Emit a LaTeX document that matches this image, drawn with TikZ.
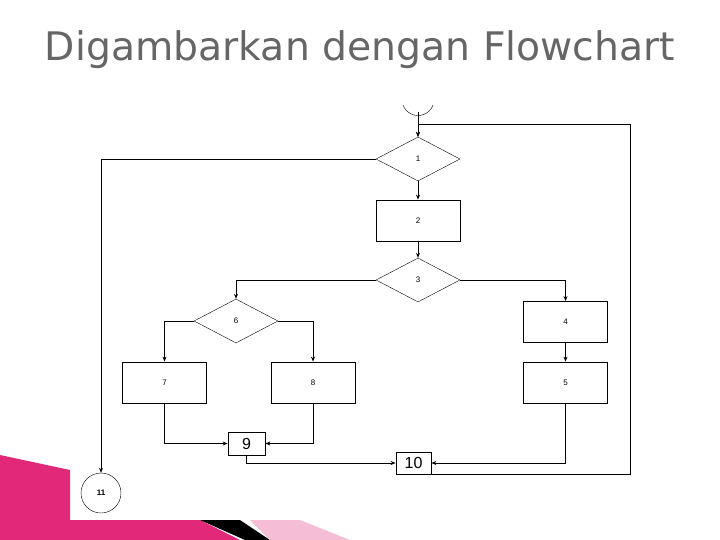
\documentclass[tikz,border=0pt]{standalone}
\usepackage{fontspec}
\setmainfont{Liberation Sans}
\newfontfamily\titlefont{DejaVu Sans}
\usetikzlibrary{shapes.geometric,arrows.meta}
\definecolor{deco}{RGB}{226,40,120}
\begin{document}
\begin{tikzpicture}[x=1pt,y=-1pt,
  box/.style={draw,thick,minimum width=84pt,minimum height=41pt,inner sep=0pt,font=\fontsize{8}{9}\selectfont},
  dia/.style={draw,diamond,aspect=1.9,minimum width=84pt,minimum height=44pt,inner sep=0pt,font=\fontsize{8}{9}\selectfont},
  small/.style={draw,thick,inner sep=0pt,font=\fontsize{16}{16}\selectfont},
  ar/.style={-{Stealth[length=5pt,width=4pt]},thick}]
\useasboundingbox (0,0) rectangle (720,540);
\fill[white] (0,0) rectangle (720,540);
% decorations
\fill[deco] (0,455) -- (70,470) -- (70,520) -- (200,520) -- (240,540) -- (0,540) -- cycle;
\fill[black] (200,520) -- (240,520) -- (270,540) -- (245,540) -- cycle;
\fill[deco!30] (250,520) -- (300,520) -- (350,540) -- (270,540) -- cycle;
\node[text=gray!80!black,inner sep=0pt] (title) at (360,50) {\resizebox{630pt}{!}{\titlefont\fontsize{30}{34}\selectfont Digambarkan dengan Flowchart}};
% nodes
\node[dia] (n1) at (418,159) {1};
\node[box] (n2) at (418,220.5) {2};
\node[dia] (n3) at (418,280) {3};
\node[dia] (n6) at (236,321) {6};
\node[box] (n4) at (565.5,322) {4};
\node[box] (n7) at (164.5,382.5) {7};
\node[box] (n8) at (313,382.5) {8};
\node[box] (n5) at (565.5,382.5) {5};
\node[small,minimum width=37pt,minimum height=23pt] (n9) at (246.5,443.5) {9};
\node[small,minimum width=35pt,minimum height=22pt] (n10) at (413.5,463) {10};
\node[draw,circle,minimum size=40pt,inner sep=0pt,font=\fontsize{8}{9}\selectfont\bfseries] (n11) at (101,493) {11};
\coordinate (s) at (418,112);
\draw[thin] (403,105) arc[start angle=200,end angle=340,radius=16pt];
% connectors
\draw[ar] (s) -- (n1.north);
\draw[ar] (n1.south) -- (n2.north);
\draw[ar] (n2.south) -- (n3.north);
\draw[ar] (n1.west) -| (n11.north);
\draw[ar] (n3.west) -| (n6.north);
\draw[ar] (n3.east) -| (n4.north);
\draw[ar] (n4.south) -- (n5.north);
\draw[ar] (n6.west) -| (n7.north);
\draw[ar] (n6.east) -| (n8.north);
\draw[ar] (n7.south) |- (n9.west);
\draw[ar] (n8.south) |- (n9.east);
\draw[ar] (n9.south) |- (n10.west);
\draw[ar] (n5.south) |- (n10.east);
\draw[ar] (n10.south) |- (630,474) -- (630,124) -| (n1.north);
\end{tikzpicture}
\end{document}
